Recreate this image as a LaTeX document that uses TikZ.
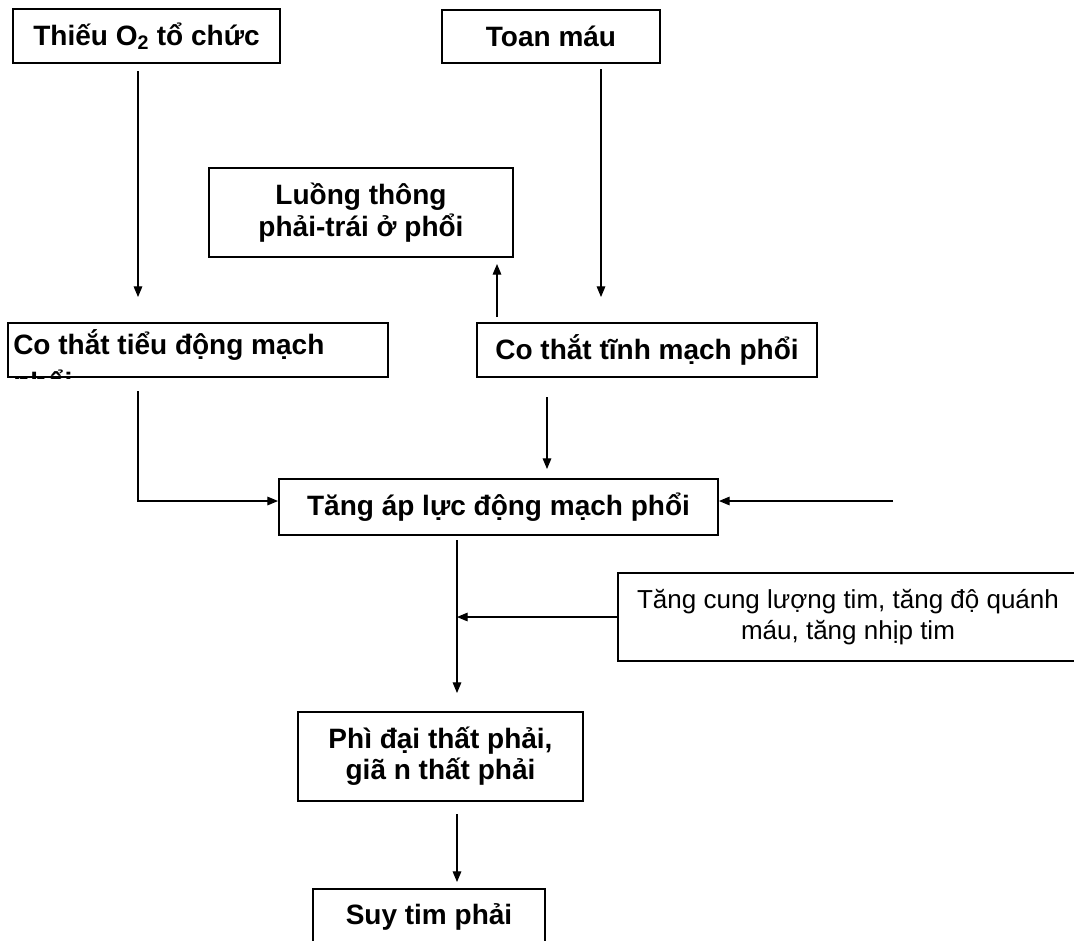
\documentclass[tikz,border=0pt]{standalone}
\usepackage{fontspec}
\setmainfont{Liberation Sans}
\usetikzlibrary{arrows.meta}

\tikzset{
    kasten/.style={draw, line width=1.5pt, inner sep=0pt, align=center,
        font=\bfseries\fontsize{21}{23.5}\selectfont},
    pfeil/.style={line width=0.8pt, -{Triangle[length=8pt,width=6.5pt]}}
}

\begin{document}
\begin{tikzpicture}[x=0.75pt,y=-0.75pt]
        \useasboundingbox (0,0) rectangle (1074,940);

        % zeichne Kaesten
        \node[kasten, minimum width=200.25pt, minimum height=40.5pt] (thieu) at (146.5,36) {Thiếu O\textsubscript{2} tổ chức};
        \node[kasten, minimum width=163.5pt, minimum height=39.75pt] (toan) at (551,36.5) {Toan máu};
        \node[kasten, minimum width=228pt, minimum height=66.75pt] (luong) at (361,212.5) {Luồng thông\\phải-trái ở phổi};
        \node[kasten, minimum width=285pt, minimum height=40.5pt] (cotieu) at (198,350) {};
        \node[kasten, minimum width=255pt, minimum height=40.5pt] (cotinh) at (647,350) {Co thắt tĩnh mạch phổi};
        \node[kasten, minimum width=329.25pt, minimum height=42pt] (tangap) at (498.5,507) {Tăng áp lực động mạch phổi};
        \node[kasten, minimum width=345pt, minimum height=66pt, font=\fontsize{19.5}{23}\selectfont] (tangcung) at (848,617) {Tăng cung lượng tim, tăng độ quánh\\máu, tăng nhịp tim};
        \node[kasten, minimum width=213.75pt, minimum height=66.75pt] (phidai) at (440.5,756.5) {Phì đại thất phải,\\giã n thất phải};
        \node[kasten, minimum width=174pt, minimum height=42pt] (suy) at (429,917) {Suy tim phải};

        % Text im Kasten wird abgeschnitten
        \begin{scope}
            \clip (cotieu.south west) rectangle (cotieu.north east);
            \node[anchor=base west, inner sep=0pt, align=left, font=\bfseries\fontsize{21}{28}\selectfont] (cotieutext) at (13,392) {Co thắt tiểu động mạch\\phổi};
        \end{scope}

        % Hilfspunkte fuer die Pfeile
        \coordinate (s1) at (138,0);
        \coordinate (s2) at (601,0);
        \coordinate (s3) at (497,0);
        \coordinate (s4) at (547,0);
        \coordinate (s5) at (457,0);
        \coordinate (z1) at (0,501);
        \coordinate (rechts) at (893,501);

        % zeichne Pfeile
        \draw[pfeil, shorten <=5.25pt, shorten >=18.75pt] (thieu.south -| s1) -- (cotieu.north -| s1);
        \draw[pfeil, shorten <=3.75pt, shorten >=18.75pt] (toan.south -| s2) -- (cotinh.north -| s2);
        \draw[pfeil, shorten <=3.75pt, shorten >=4.5pt] (cotinh.north -| s3) -- (luong.south -| s3);
        \draw[pfeil, shorten <=9.75pt] (cotieu.south -| s1) |- (tangap.west |- z1);
        \draw[pfeil, shorten <=14.25pt, shorten >=6.75pt] (cotinh.south -| s4) -- (tangap.north -| s4);
        \draw[pfeil] (rechts) -- (tangap.east |- z1);
        \draw[pfeil, shorten <=3pt, shorten >=13.5pt] (tangap.south -| s5) -- (phidai.north -| s5);
        \draw[pfeil] (tangcung.west) -- (tangcung.west -| s5);
        \draw[pfeil, shorten <=9pt, shorten >=4.5pt] (phidai.south -| s5) -- (suy.north -| s5);
    \end{tikzpicture}
\end{document}
